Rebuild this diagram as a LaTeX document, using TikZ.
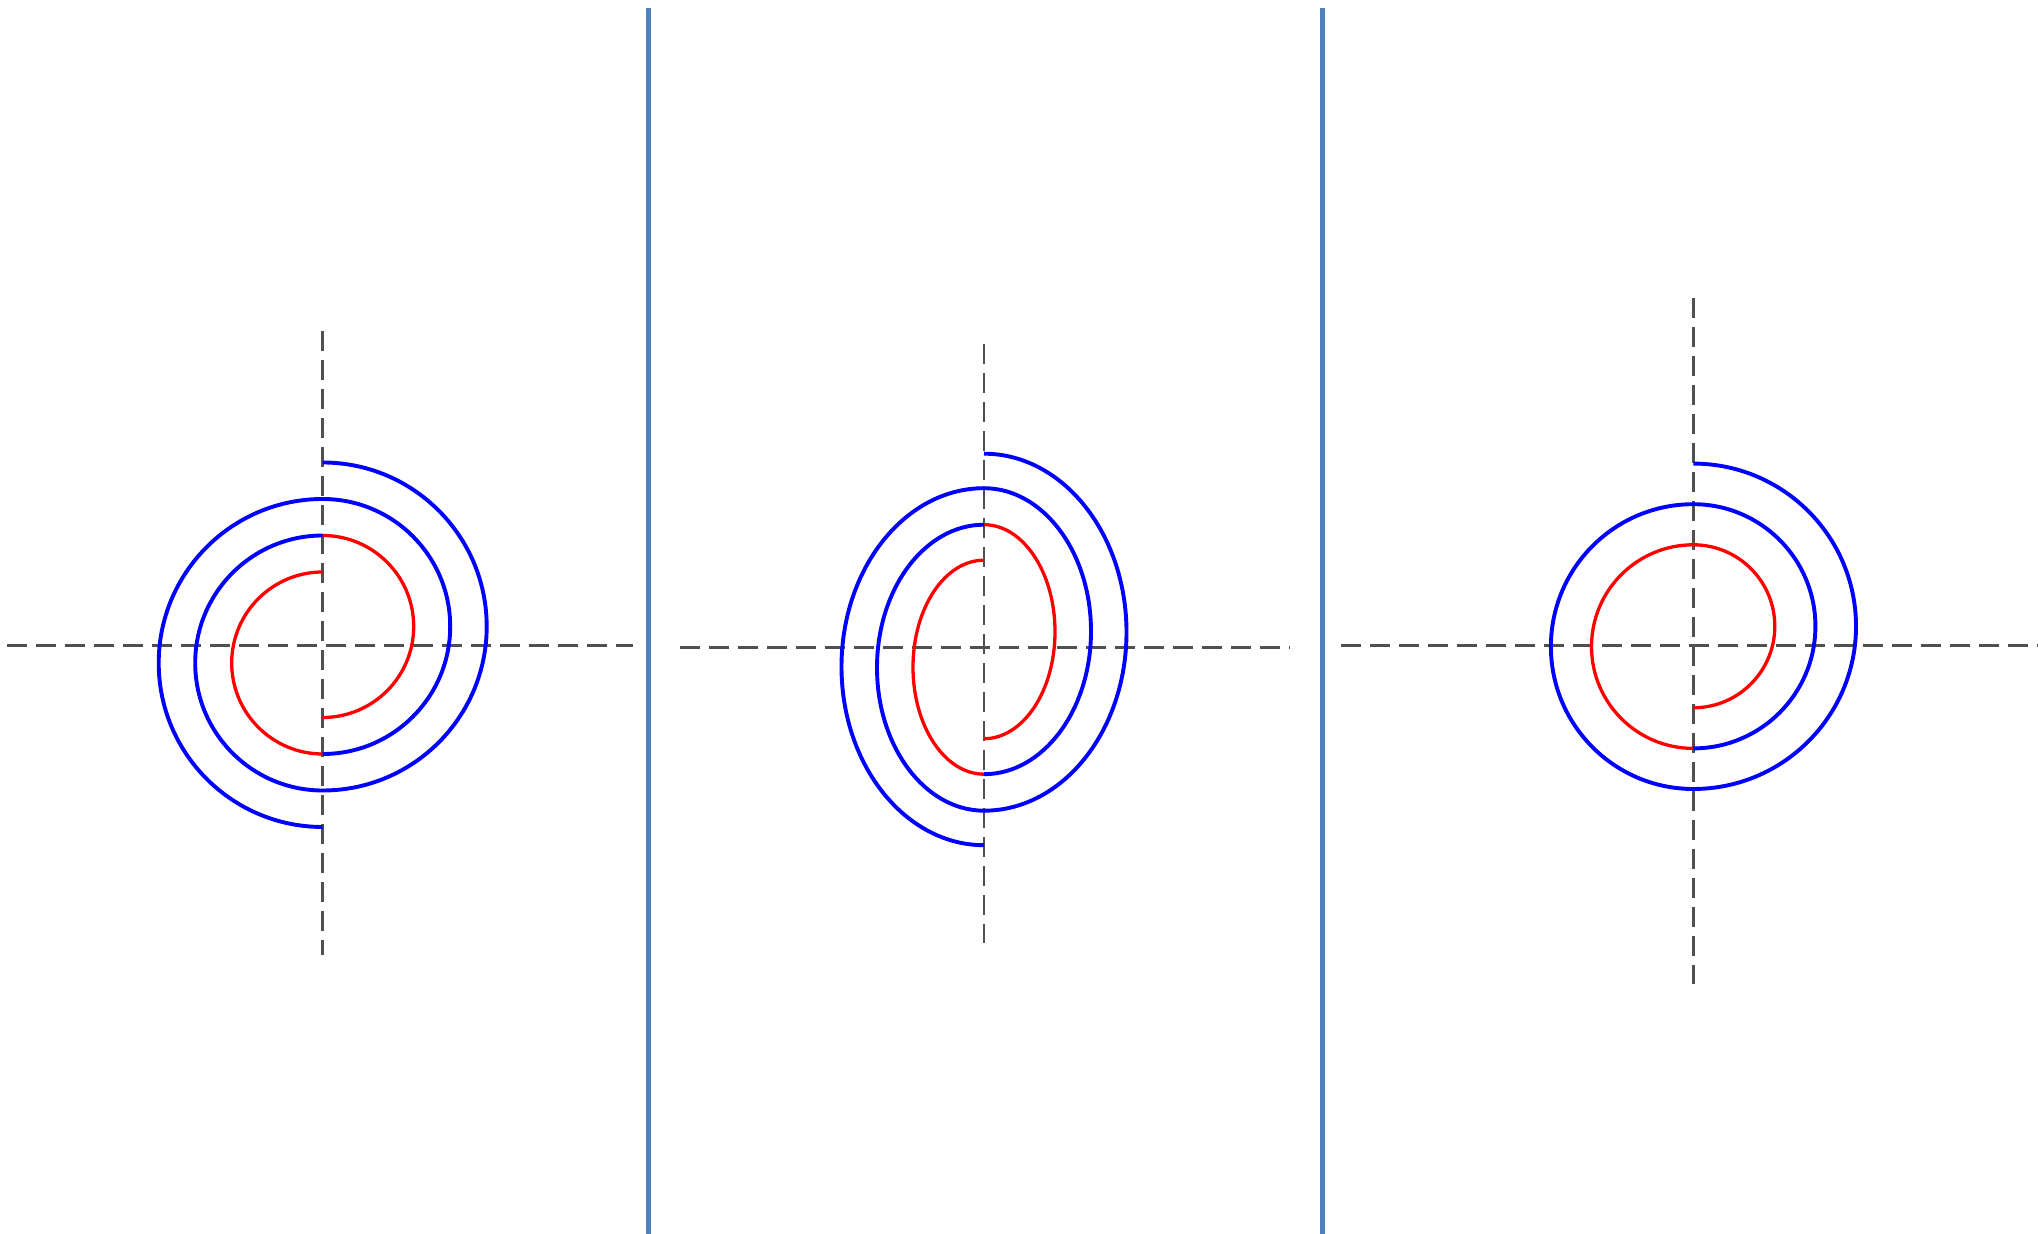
\documentclass[tikz,border=0pt]{standalone}
\definecolor{sepblue}{RGB}{79,129,189}
\definecolor{axisgray}{RGB}{80,80,80}
\tikzset{
  axisline/.style={draw=axisgray, line width=2.8pt, dash pattern=on 20pt off 9pt},
  sepline/.style={draw=sepblue, line width=4.6pt},
  redarc/.style={draw=red, line width=3.3pt},
  bluearc/.style={draw=blue, line width=3.9pt},
}
\begin{document}
\begin{tikzpicture}[x=1pt,y=1pt]
\useasboundingbox (0,0) rectangle (2038,1234);
% separators
\coordinate (s1t) at (648.3,1226);
\coordinate (s1b) at (648.3,0);
\coordinate (s2t) at (1322.3,1226);
\coordinate (s2b) at (1322.3,0);
\draw[sepline] (s1t) -- (s1b);
\draw[sepline] (s2t) -- (s2b);

% ---------- panel 1 ----------
\coordinate (a1t) at (322.7,903);
\coordinate (a1b) at (322.7,279);
\coordinate (a1l) at (7,588.5);
\coordinate (a1r) at (633,588.5);
\draw[axisline] (a1t) -- (a1b);
\draw[axisline] (a1l) -- (a1r);
% spiral A
\coordinate (p1a) at (322.7,516.5);
\draw[redarc] (p1a) arc[start angle=-90,end angle=90,radius=91] coordinate (p1a2);
\draw[bluearc] (p1a2) arc[start angle=90,end angle=270,radius=127.5]
   arc[start angle=-90,end angle=90,radius=164];
% spiral B
\coordinate (p1b) at (322.7,662);
\draw[redarc] (p1b) arc[start angle=90,end angle=270,radius=91] coordinate (p1b2);
\draw[bluearc] (p1b2) arc[start angle=-90,end angle=90,radius=127.5]
   arc[start angle=90,end angle=270,radius=164];

% ---------- panel 2 ----------
\coordinate (a2t) at (984,889.7);
\coordinate (a2b) at (984,291.1);
\coordinate (a2l) at (680,586.6);
\coordinate (a2r) at (1290,586.6);
\draw[axisline] (a2t) -- (a2b);
\draw[axisline] (a2l) -- (a2r);
% spiral A
\coordinate (p2a) at (984,495.3);
\draw[redarc] (p2a) arc[start angle=-90,end angle=90,x radius=71,y radius=107] coordinate (p2a2);
\draw[bluearc] (p2a2) arc[start angle=90,end angle=270,x radius=107,y radius=143]
   arc[start angle=-90,end angle=90,x radius=142.5,y radius=178.5];
% spiral B
\coordinate (p2b) at (984,673.8);
\draw[redarc] (p2b) arc[start angle=90,end angle=270,x radius=71,y radius=107] coordinate (p2b2);
\draw[bluearc] (p2b2) arc[start angle=-90,end angle=90,x radius=107,y radius=143]
   arc[start angle=90,end angle=270,x radius=142.5,y radius=178.5];

% ---------- panel 3 ----------
\coordinate (a3t) at (1693.3,936);
\coordinate (a3b) at (1693.3,249.5);
\coordinate (a3l) at (1341,588.5);
\coordinate (a3r) at (2038,588.5);
\draw[axisline] (a3t) -- (a3b);
\draw[axisline] (a3l) -- (a3r);
\coordinate (p3) at (1693.3,526.2);
\draw[redarc] (p3) arc[start angle=-90,end angle=90,radius=81.5]
   arc[start angle=90,end angle=270,radius=101.8] coordinate (p32);
\draw[bluearc] (p32) arc[start angle=-90,end angle=90,radius=122.1]
   arc[start angle=90,end angle=270,radius=142.4]
   arc[start angle=-90,end angle=90,radius=162.7];
\end{tikzpicture}
\end{document}
